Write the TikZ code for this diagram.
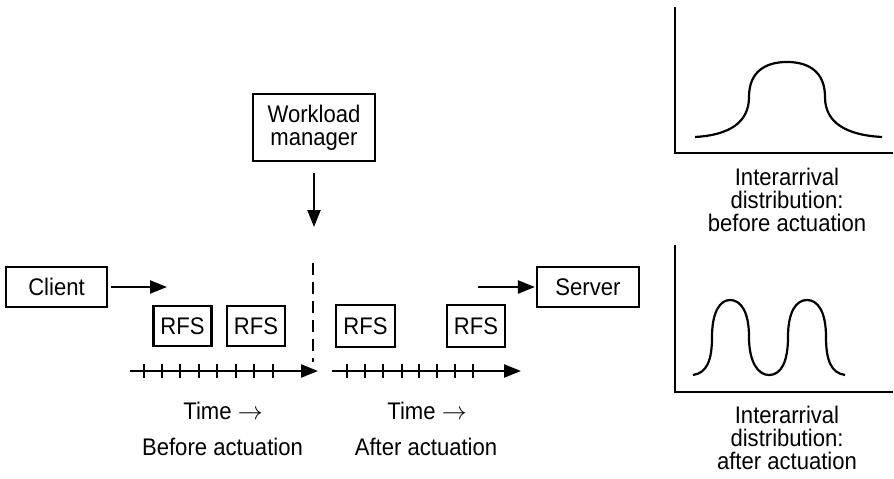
\documentclass[tikz,border=0pt]{standalone}
\usepackage{fontspec}
\setmainfont{Liberation Sans}[FakeStretch=0.92]
\usetikzlibrary{arrows.meta}
\newcommand\lbl{\fontsize{24}{23}\selectfont}
\begin{document}
\begin{tikzpicture}[x=1pt,y=-1pt,
  lw/.style={line width=2.2pt},
  box/.style={draw, lw, inner sep=0pt, minimum width=#1, minimum height=40pt, font=\lbl},
  arr/.style={lw, -{Triangle[length=17pt,width=13pt]}},
  txt/.style={font=\lbl, inner sep=0pt, anchor=base, align=center},
  dashline/.style={lw, dash pattern=on 12pt off 7pt}]
\useasboundingbox (0,0) rectangle (894,479);
% boxes
\node[box=101pt] (client) at (56.5,287) {Client};
\node[box=102pt] (server) at (588,287) {Server};
\node[box=122pt, minimum height=67pt, align=center] (wm) at (314,127.5) {Workload\\manager};
\node[box=58pt] (rfs1) at (182.5,326) {RFS};
\node[box=58pt] (rfs2) at (256,326) {RFS};
\node[box=59pt, minimum height=42pt] (rfs3) at (365.5,326) {RFS};
\node[box=58pt, minimum height=42pt] (rfs4) at (476,326) {RFS};
% arrows
\coordinate (ca) at (167,287);
\draw[arr] ([xshift=3pt]client.east) -- (ca);
\coordinate (sa) at (478,287);
\draw[arr] (sa) -- ([xshift=-1pt]server.west);
\coordinate (wa) at (314,227);
\draw[arr] ([yshift=-11pt]wm.south) -- (wa);
% dashed divider
\coordinate (d1) at (313,263);
\coordinate (d2) at (313,362);
\draw[dashline] (d1) -- (d2);
% timelines
\coordinate (t1s) at (130,371);
\coordinate (t1e) at (318,371);
\draw[arr] (t1s) -- (t1e);
\foreach \x in {144,162,180,199,217,236,254,273} \draw[lw] (\x,364) -- (\x,378);
\coordinate (t2s) at (332,371);
\coordinate (t2e) at (521,371);
\draw[arr] (t2s) -- (t2e);
\foreach \x in {347,365,383,402,419,437,455,473} \draw[lw] (\x,364) -- (\x,378);
% time labels
\node[txt] (time1) at (223,419) {Time $\rightarrow$};
\node[txt] (before) at (222.5,455) {Before actuation};
\node[txt] (time2) at (427,419) {Time $\rightarrow$};
\node[txt] (after) at (426,455) {After actuation};
% plot 1
\draw[lw] (675,7) -- (675,153) -- (893,153);
\draw[lw] (695,137) .. controls (730,135) and (749,122) .. (749,97)
  .. controls (749,72) and (765,62) .. (787,62)
  .. controls (809,62) and (825,72) .. (825,97)
  .. controls (825,122) and (845,135) .. (882,137);
\node[txt] (cap1) at (787,231) {Interarrival\\distribution:\\before actuation};
% plot 2
\draw[lw] (675,245) -- (675,392) -- (893,392);
\draw[lw] (693,375) .. controls (707,373) and (712,360) .. (712,337)
  .. controls (712,312) and (720,300) .. (730,300)
  .. controls (741,300) and (749,312) .. (749,337)
  .. controls (749,362) and (758,375) .. (769,375)
  .. controls (781,375) and (788,362) .. (788,337)
  .. controls (788,312) and (796,300) .. (807,300)
  .. controls (818,300) and (826,312) .. (826,337)
  .. controls (826,360) and (831,373) .. (845,375);
\node[txt] (cap2) at (787,469) {Interarrival\\distribution:\\after actuation};
\end{tikzpicture}
\end{document}
